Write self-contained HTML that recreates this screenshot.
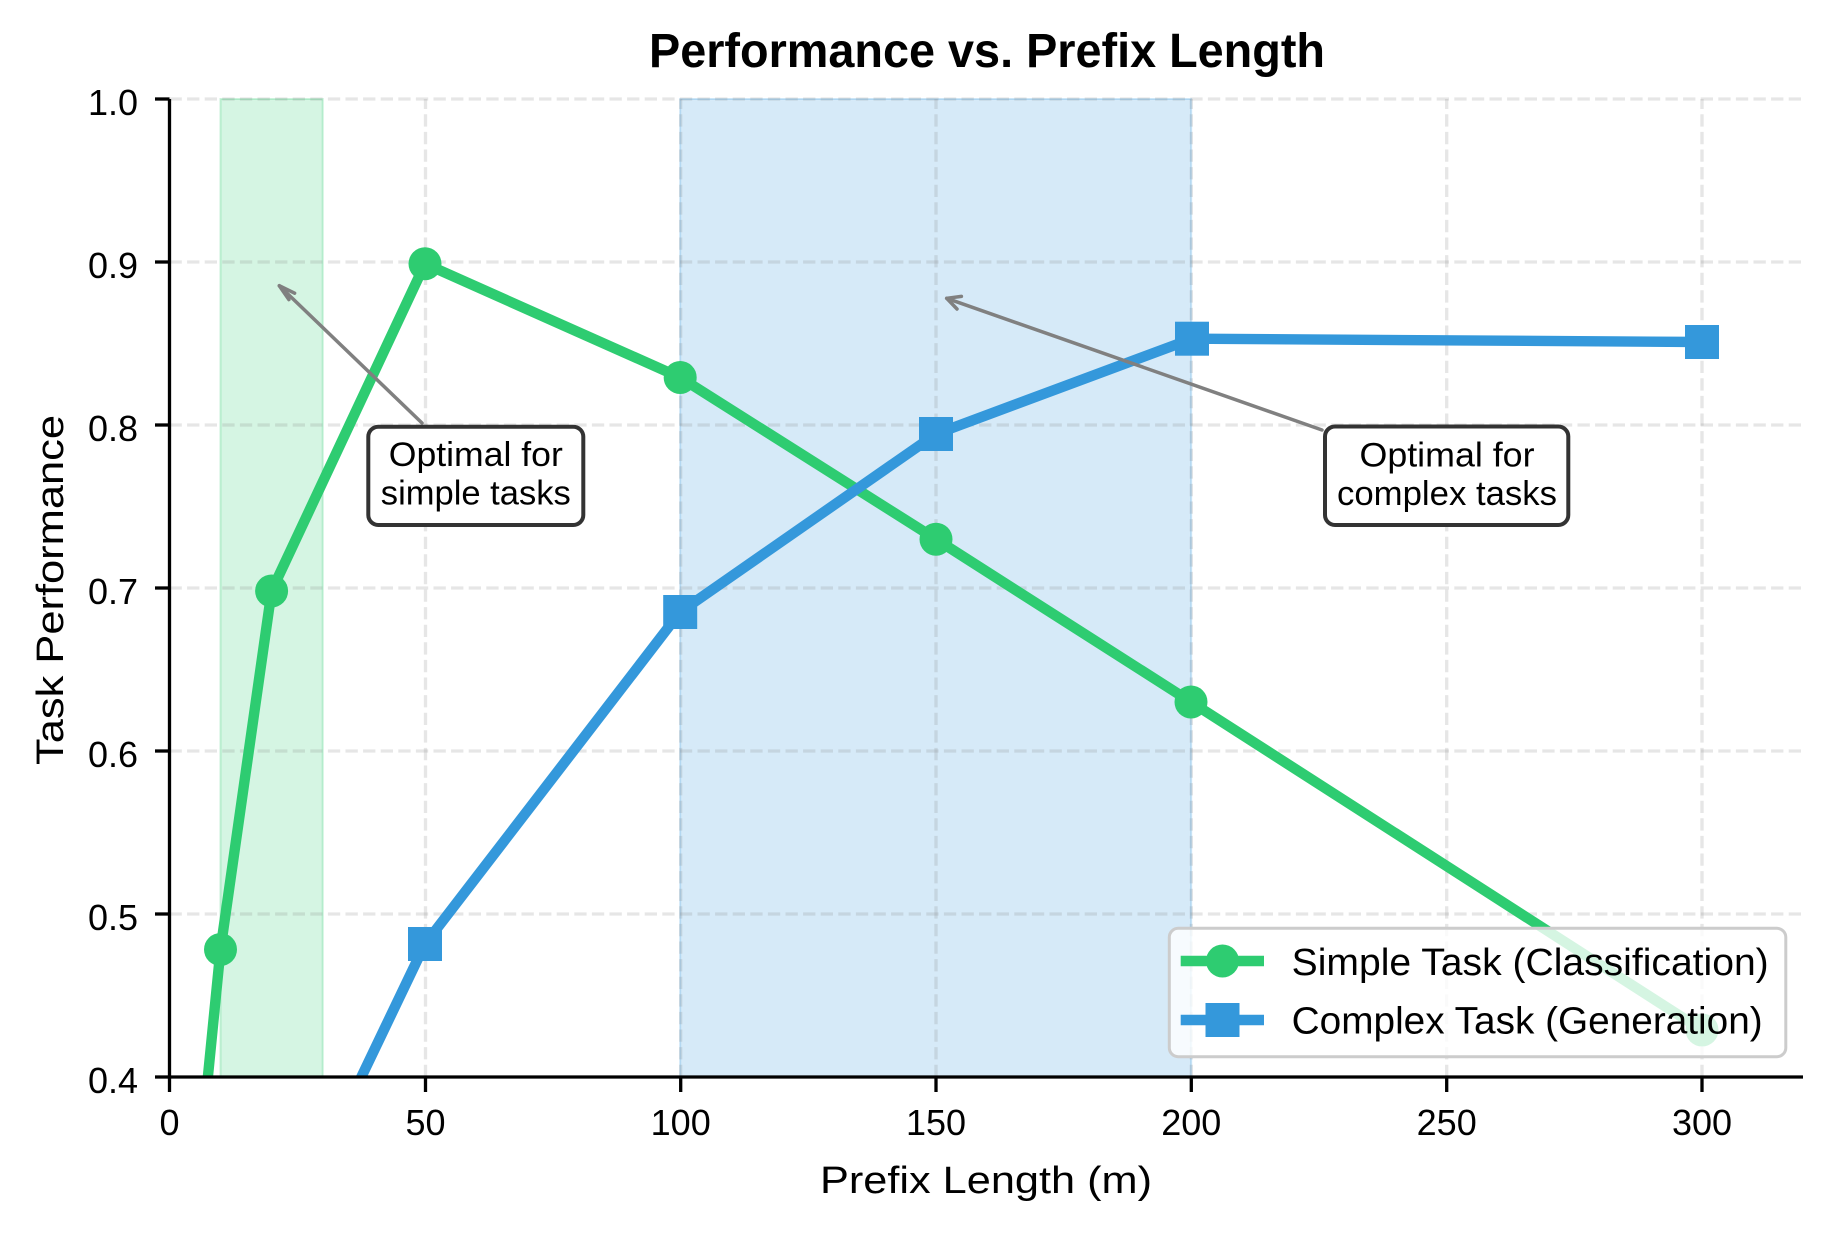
<!DOCTYPE html>
<html>
<head>
<meta charset="utf-8">
<style>
html,body{margin:0;padding:0;background:#fff;}
svg{display:block;}
text{font-family:"Liberation Sans",sans-serif;fill:#000;}
</style>
</head>
<body>
<svg width="1834" height="1234" viewBox="0 0 1834 1234" xmlns="http://www.w3.org/2000/svg">
<defs>
<clipPath id="plot"><rect x="169.5" y="99" width="1633.5" height="978"/></clipPath>
</defs>
<rect x="0" y="0" width="1834" height="1234" fill="#fff"/>

<!-- shaded spans -->
<rect x="220.5" y="99" width="102.2" height="978" fill="#d5f5e3"/>
<rect x="220.5" y="99" width="102.2" height="978" fill="none" stroke="#2ecc71" stroke-opacity="0.25" stroke-width="2"/>
<rect x="680.2" y="99" width="511" height="978" fill="#d6eaf8"/>
<rect x="680.2" y="99" width="511" height="978" fill="none" stroke="#3498db" stroke-opacity="0.25" stroke-width="2"/>

<!-- grid -->
<g stroke="#808080" stroke-opacity="0.2" stroke-width="3.3" stroke-dasharray="12.3 5.3" fill="none">
<line x1="425.5" y1="1077" x2="425.5" y2="99"/>
<line x1="680.7" y1="1077" x2="680.7" y2="99"/>
<line x1="936" y1="1077" x2="936" y2="99"/>
<line x1="1191.3" y1="1077" x2="1191.3" y2="99"/>
<line x1="1446.7" y1="1077" x2="1446.7" y2="99"/>
<line x1="1702" y1="1077" x2="1702" y2="99"/>
<line x1="169.5" y1="99" x2="1803" y2="99"/>
<line x1="169.5" y1="262" x2="1803" y2="262"/>
<line x1="169.5" y1="425" x2="1803" y2="425"/>
<line x1="169.5" y1="588" x2="1803" y2="588"/>
<line x1="169.5" y1="751" x2="1803" y2="751"/>
<line x1="169.5" y1="914" x2="1803" y2="914"/>
</g>

<!-- series -->
<g clip-path="url(#plot)">
<polyline fill="none" stroke="#2ecc71" stroke-width="10.4" stroke-linejoin="round" stroke-linecap="butt"
 points="195,1207 220.5,949.5 271.6,591 425,263.8 680.2,377.5 936,539.2 1191,702 1702,1030"/>
<g fill="#2ecc71">
<circle cx="220.5" cy="949.5" r="16.5"/>
<circle cx="271.6" cy="591" r="16.5"/>
<circle cx="425" cy="263.8" r="16.5"/>
<circle cx="680.2" cy="377.5" r="16.5"/>
<circle cx="936" cy="539.2" r="16.5"/>
<circle cx="1191" cy="702" r="16.5"/>
<circle cx="1702" cy="1030" r="16.5"/>
</g>
<polyline fill="none" stroke="#3498db" stroke-width="10.4" stroke-linejoin="round" stroke-linecap="butt"
 points="271.6,1264.5 425,944 680.2,612 936,434 1192,338.7 1702,342"/>
<g fill="#3498db">
<rect x="408" y="927" width="34" height="34"/>
<rect x="663.2" y="595" width="34" height="34"/>
<rect x="919" y="417" width="34" height="34"/>
<rect x="1175" y="321.7" width="34" height="34"/>
<rect x="1685" y="325" width="34" height="34"/>
</g>
</g>

<!-- spines -->
<line x1="169.5" y1="99" x2="169.5" y2="1078.6" stroke="#000" stroke-width="3.3"/>
<line x1="167.9" y1="1077" x2="1803" y2="1077" stroke="#000" stroke-width="3.3"/>

<!-- y ticks -->
<g stroke="#000" stroke-width="3.3">
<line x1="155" y1="99" x2="169.5" y2="99"/>
<line x1="155" y1="262" x2="169.5" y2="262"/>
<line x1="155" y1="425" x2="169.5" y2="425"/>
<line x1="155" y1="588" x2="169.5" y2="588"/>
<line x1="155" y1="751" x2="169.5" y2="751"/>
<line x1="155" y1="914" x2="169.5" y2="914"/>
<line x1="155" y1="1077" x2="169.5" y2="1077"/>
<line x1="169.5" y1="1077" x2="169.5" y2="1092"/>
<line x1="425.5" y1="1077" x2="425.5" y2="1092"/>
<line x1="680.7" y1="1077" x2="680.7" y2="1092"/>
<line x1="936" y1="1077" x2="936" y2="1092"/>
<line x1="1191.3" y1="1077" x2="1191.3" y2="1092"/>
<line x1="1446.7" y1="1077" x2="1446.7" y2="1092"/>
<line x1="1702" y1="1077" x2="1702" y2="1092"/>
</g>
<g font-size="36" text-anchor="end">
<text x="138" y="115">1.0</text>
<text x="138" y="278">0.9</text>
<text x="138" y="441">0.8</text>
<text x="138" y="604">0.7</text>
<text x="138" y="767">0.6</text>
<text x="138" y="930">0.5</text>
<text x="138" y="1093">0.4</text>
</g>
<g font-size="36" text-anchor="middle">
<text x="169.5" y="1135">0</text>
<text x="425.5" y="1135">50</text>
<text x="680.7" y="1135">100</text>
<text x="936" y="1135">150</text>
<text x="1191.3" y="1135">200</text>
<text x="1446.7" y="1135">250</text>
<text x="1702" y="1135">300</text>
</g>

<!-- axis labels & title -->
<text x="986" y="1193" font-size="38.4" text-anchor="middle" textLength="332" lengthAdjust="spacingAndGlyphs">Prefix Length (m)</text>
<text transform="translate(63,590) rotate(-90)" x="0" y="0" font-size="38.4" text-anchor="middle" textLength="350" lengthAdjust="spacingAndGlyphs">Task Performance</text>
<text x="987" y="67" font-size="48" font-weight="bold" text-anchor="middle" textLength="676" lengthAdjust="spacingAndGlyphs">Performance vs. Prefix Length</text>

<!-- annotations -->
<g stroke="#808080" stroke-width="3.5" fill="none" stroke-linecap="round" stroke-linejoin="round">
<line x1="422" y1="423" x2="279.3" y2="285.7"/>
<polyline points="288.9,299.6 279.3,285.7 294.6,293.2"/>
<line x1="1322" y1="430" x2="946.7" y2="298.3"/>
<polyline points="957,309 946.7,298.3 961.4,296.4"/>
</g>
<rect x="368.3" y="426.7" width="215" height="98.3" rx="10" ry="10" fill="#fff" stroke="#333" stroke-width="4"/>
<g font-size="34" text-anchor="middle">
<text x="475.8" y="466" textLength="174" lengthAdjust="spacingAndGlyphs">Optimal for</text>
<text x="475.8" y="504.5" textLength="190" lengthAdjust="spacingAndGlyphs">simple tasks</text>
</g>
<rect x="1325" y="426.5" width="243.3" height="98.5" rx="10" ry="10" fill="#fff" stroke="#333" stroke-width="4"/>
<g font-size="34" text-anchor="middle">
<text x="1447" y="466.5" textLength="175" lengthAdjust="spacingAndGlyphs">Optimal for</text>
<text x="1447" y="505" textLength="220" lengthAdjust="spacingAndGlyphs">complex tasks</text>
</g>

<!-- legend -->
<rect x="1169.3" y="928.3" width="616.5" height="128.4" rx="9" ry="9" fill="#fff" fill-opacity="0.8" stroke="#cccccc" stroke-width="3"/>
<line x1="1180.7" y1="961" x2="1264" y2="961" stroke="#2ecc71" stroke-width="10.4"/>
<circle cx="1222.5" cy="961" r="16.5" fill="#2ecc71"/>
<line x1="1180.7" y1="1020" x2="1264" y2="1020" stroke="#3498db" stroke-width="10.4"/>
<rect x="1205.5" y="1003" width="34" height="34" fill="#3498db"/>
<text x="1291.7" y="975" font-size="38.4" textLength="477" lengthAdjust="spacingAndGlyphs">Simple Task (Classification)</text>
<text x="1291.7" y="1033.3" font-size="38.4" textLength="471" lengthAdjust="spacingAndGlyphs">Complex Task (Generation)</text>
</svg>
</body>
</html>
